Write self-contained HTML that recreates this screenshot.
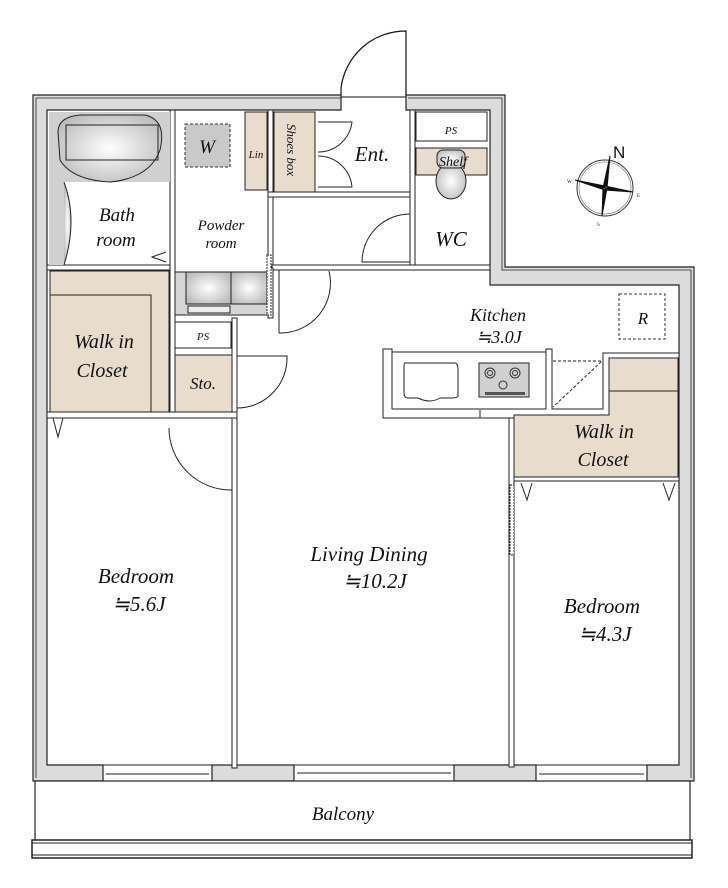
<!DOCTYPE html>
<html><head><meta charset="utf-8"><style>
html,body{margin:0;padding:0;background:#fff;}
svg{display:block;}
text{font-family:"Liberation Serif",serif;font-style:italic;fill:#111;}
</style></head><body>
<svg width="728" height="888" viewBox="0 0 728 888" xmlns="http://www.w3.org/2000/svg">
<defs>
<radialGradient id="g1" cx="50%" cy="50%" r="60%"><stop offset="0" stop-color="#fff"/><stop offset="1" stop-color="#bbb"/></radialGradient>
</defs>
<path d="M33,95 H341 V110 H47 V765 H103 V781 H33 Z" fill="#dcdcdc" stroke="#222" stroke-width="1.2"/>
<path d="M406,95 H505 V267 H694 V781 H647 V765 H679 V285 H490 V110 H406 Z" fill="#dcdcdc" stroke="#222" stroke-width="1.2"/>
<rect x="212" y="765" width="82" height="16" fill="#dcdcdc" stroke="#222" stroke-width="1.2"/>
<rect x="454" y="765" width="82" height="16" fill="#dcdcdc" stroke="#222" stroke-width="1.2"/>
<path d="M36,98 H341 M36,98 V778 M408,98 H502 V270 H691 V778" fill="none" stroke="#222" stroke-width="0.8"/>
<g stroke="#222" stroke-width="1" fill="none">
<rect x="103" y="765" width="109" height="16"/><line x1="106" y1="774" x2="209" y2="774"/>
<rect x="294" y="765" width="160" height="16"/><line x1="297" y1="773" x2="451" y2="773"/>
<rect x="536" y="765" width="111" height="16"/><line x1="539" y1="774" x2="644" y2="774"/>
</g>
<rect x="35" y="781" width="655" height="60" fill="#fff" stroke="#222" stroke-width="1.2"/>
<rect x="32" y="840" width="660" height="18" fill="#fff" stroke="#222" stroke-width="1.5"/>
<line x1="32" y1="843" x2="692" y2="843" stroke="#222"/><line x1="32" y1="855" x2="692" y2="855" stroke="#222"/>
<text x="343" y="820" font-size="19" text-anchor="middle">Balcony</text>
<path d="M341,95 V88 A65,65 0 0 1 406,31 V95" fill="none" stroke="#111" stroke-width="1.2"/>
<line x1="341" y1="97" x2="406" y2="97" stroke="#111"/>
<g fill="#fff" stroke="#222" stroke-width="1">
<rect x="47" y="265" width="125" height="5"/>
<rect x="170" y="110" width="5" height="305"/>
<rect x="268" y="110" width="5" height="160"/>
<rect x="268" y="192" width="142" height="5"/>
<rect x="410" y="110" width="5" height="160"/>
<rect x="272" y="265" width="218" height="5"/>
<rect x="268" y="268" width="5" height="50"/>
<rect x="232" y="318" width="5" height="450"/>
<rect x="47" y="412" width="190" height="6"/>
<rect x="509" y="410" width="5" height="357"/>
</g>
<rect x="49" y="112" width="121" height="70" fill="#d0d0d0"/>
<path d="M58,132 Q58,117 80,115 H145 Q167,120 160,150 Q150,178 110,182 Q72,180 60,160 Z" fill="url(#g1)" stroke="#222"/>
<path d="M66,125 H158 V160 H66 Z" fill="none" stroke="#222"/>
<rect x="49" y="182" width="15" height="83" fill="#d0d0d0"/>
<path d="M64,182 Q78,220 64,265" fill="url(#g1)" stroke="#222"/>
<path d="M166,262 L152,257 L166,252" fill="none" stroke="#222"/>
<text x="117" y="221" font-size="19" text-anchor="middle">Bath</text>
<text x="116" y="246" font-size="19" text-anchor="middle">room</text>
<rect x="185" y="124" width="45" height="43" fill="#c9c9c9" stroke="#333" stroke-dasharray="3,2"/>
<text x="207" y="153" font-size="19" text-anchor="middle">W</text>
<rect x="245" y="112" width="22" height="78" fill="#e8dccd" stroke="#222"/>
<text x="256" y="158" font-size="11" text-anchor="middle">Lin</text>
<rect x="274" y="112" width="41" height="80" fill="#e8dccd" stroke="#222"/>
<text transform="translate(287,150) rotate(90)" font-size="13" text-anchor="middle">Shoes box</text>
<text x="221" y="230" font-size="15" text-anchor="middle">Powder</text>
<text x="221" y="248" font-size="15" text-anchor="middle">room</text>
<rect x="175" y="272" width="93" height="43" fill="#d5d5d5" stroke="#222"/>
<rect x="186" y="272" width="45" height="32" fill="url(#g1)" stroke="#222"/>
<rect x="231" y="272" width="36" height="32" fill="url(#g1)" stroke="#222"/>
<rect x="188" y="306" width="42" height="7" fill="#eee" stroke="#222"/>
<rect x="267" y="255" width="4" height="60" fill="#fff" stroke="#222" stroke-dasharray="2,1"/>
<path d="M318,122 H352 A34,34 0 0 1 318,152 M318,187 H352 A34,34 0 0 0 318,156" fill="none" stroke="#222"/>
<text x="372" y="161" font-size="21" text-anchor="middle">Ent.</text>
<path d="M410,214 A48,48 0 0 0 362,262 H410" fill="none" stroke="#222"/>
<rect x="416" y="112" width="71" height="29" fill="#fff" stroke="#222"/>
<text x="451" y="134" font-size="11" text-anchor="middle">PS</text>
<rect x="416" y="148" width="71" height="27" fill="#e8dccd" stroke="#222"/>
<line x1="416" y1="175" x2="487" y2="175" stroke="#222" stroke-dasharray="3,2"/>
<ellipse cx="451" cy="181" rx="15" ry="18" fill="url(#g1)" stroke="#222"/>
<rect x="437" y="150" width="28" height="18" rx="6" fill="url(#g1)" stroke="#222"/>
<text x="453" y="166" font-size="14" text-anchor="middle">Shelf</text>
<text x="451" y="246" font-size="21" text-anchor="middle">WC</text>
<path d="M279,270 V333 A50,50 0 0 0 329,271" fill="none" stroke="#222"/>
<rect x="50" y="271" width="119" height="141" fill="#e8dccd" stroke="#222"/>
<path d="M50,295 H151 V412" fill="none" stroke="#222"/>
<text x="104" y="348" font-size="20" text-anchor="middle">Walk in</text>
<text x="102" y="377" font-size="20" text-anchor="middle">Closet</text>
<path d="M53,418 L58,437 L63,418" fill="none" stroke="#222"/>
<rect x="175" y="322" width="56" height="26" fill="#fff" stroke="#222"/>
<text x="203" y="340" font-size="11" text-anchor="middle">PS</text>
<rect x="175" y="355" width="57" height="57" fill="#e8dccd" stroke="#222"/>
<text x="203" y="389" font-size="17" text-anchor="middle">Sto.</text>
<path d="M237,356 H287 A50,50 0 0 1 237,408" fill="none" stroke="#222"/>
<path d="M169,428 A62,62 0 0 0 232,490" fill="none" stroke="#222"/>
<!-- kitchen -->
<path d="M383,349 H392 V409 H546 V349 H552 V409 H603 V353 H679 V358 H609 V415 H514 V418 H480 V418 H383 Z" fill="#fff" stroke="#222"/>
<path d="M480,410 V418" stroke="#222"/>
<rect x="392" y="352" width="154" height="57" fill="#fff" stroke="#222"/>
<path d="M405,363 H455 Q458,363 458,370 V396 Q458,398 450,398 H440 Q430,404 418,398 H408 Q404,398 404,393 V366 Q404,363 405,363Z" fill="none" stroke="#222"/>
<rect x="479" y="363" width="50" height="34" fill="#d0d0d0" stroke="#222"/>
<g fill="none" stroke="#333"><circle cx="490" cy="373" r="5"/><circle cx="490" cy="373" r="2.5"/><circle cx="515" cy="373" r="5"/><circle cx="515" cy="373" r="2.5"/><circle cx="503" cy="385" r="4"/></g>
<rect x="485" y="392" width="40" height="3" fill="#555"/>
<path d="M553,361 H602 L553,407" fill="none" stroke="#222" stroke-dasharray="3,2"/>
<text x="498" y="321" font-size="18" text-anchor="middle">Kitchen</text>
<text x="499" y="343" font-size="18" text-anchor="middle">≒3.0J</text>
<rect x="619" y="294" width="46" height="45" fill="none" stroke="#333" stroke-dasharray="3,2"/>
<text x="643" y="324" font-size="17" text-anchor="middle">R</text>
<path d="M609,358 H678 V477 H514 V415 H609 Z" fill="#e8dccd" stroke="#222"/>
<line x1="609" y1="391" x2="678" y2="391" stroke="#222"/>
<text x="604" y="438" font-size="20" text-anchor="middle">Walk in</text>
<text x="603" y="466" font-size="20" text-anchor="middle">Closet</text>
<rect x="514" y="477" width="165" height="4" fill="#fff" stroke="#222"/>
<path d="M521,483 L527,500 L532,483 M663,483 L669,500 L675,483" fill="none" stroke="#222"/>
<rect x="510" y="485" width="4" height="70" fill="#fff" stroke="#222" stroke-dasharray="2,1"/>
<text x="136" y="583" font-size="21" text-anchor="middle">Bedroom</text>
<text x="139" y="611" font-size="21" text-anchor="middle">≒5.6J</text>
<text x="369" y="561" font-size="21" text-anchor="middle">Living Dining</text>
<text x="375" y="588" font-size="21" text-anchor="middle">≒10.2J</text>
<text x="602" y="613" font-size="21" text-anchor="middle">Bedroom</text>
<text x="605" y="641" font-size="21" text-anchor="middle">≒4.3J</text>
<g transform="translate(605,188)">
<circle r="28" fill="none" stroke="#333"/><circle r="26" fill="none" stroke="#666" stroke-width="0.6"/>
<path d="M5,-32 L2,0 L-2,0 Z M-3,28 L2,0 L-2,0 Z M-30,-8 L0,-2 L0,2 Z M28,4 L0,-2 L0,2 Z" fill="#111" stroke="#111"/>
<text x="8" y="-30" font-size="17" style="font-style:normal;font-family:'Liberation Sans',sans-serif">N</text>
<text x="-38" y="-5" font-size="5" style="font-style:normal">W</text>
<text x="32" y="9" font-size="5" style="font-style:normal">E</text>
<text x="-8" y="38" font-size="5" style="font-style:normal">S</text>
</g>
</svg>
</body></html>
